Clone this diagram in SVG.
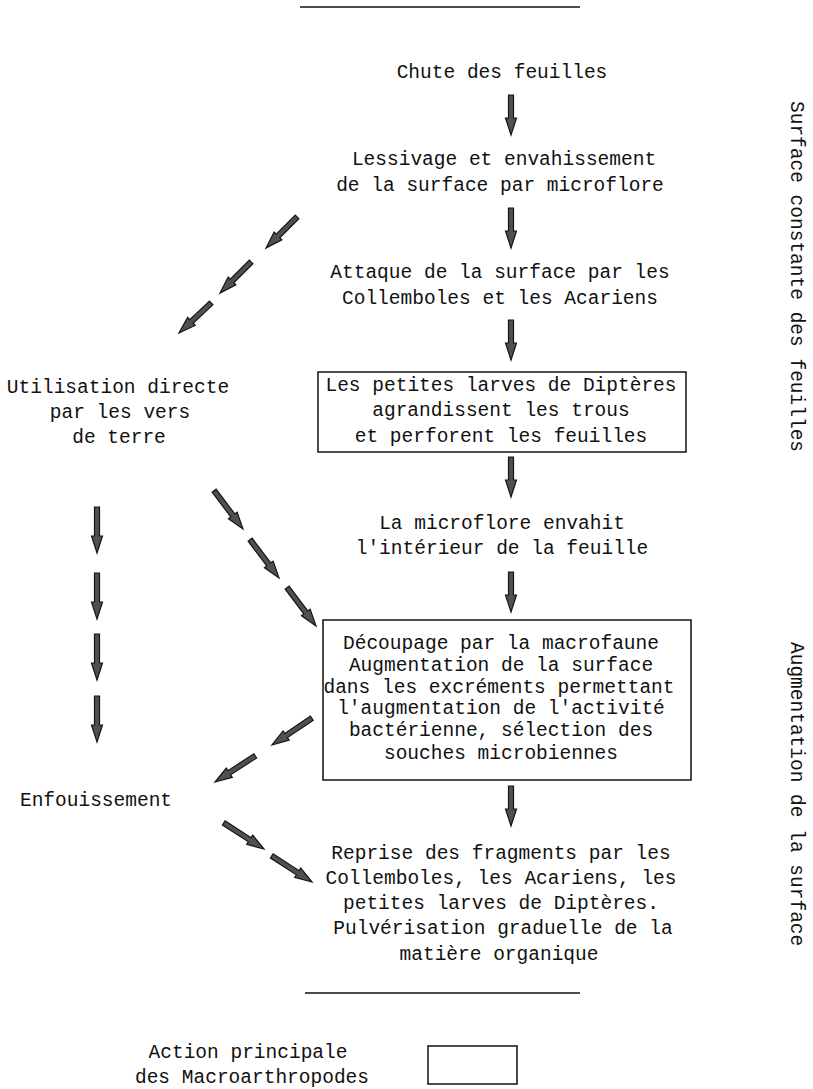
<svg xmlns="http://www.w3.org/2000/svg" xmlns:xlink="http://www.w3.org/1999/xlink" width="813" height="1089" viewBox="0 0 813 1089">
<style>
  text { font-family: "Liberation Mono", "Courier New", monospace; font-size: 19.5px; fill: #111; }
  .c { text-anchor: middle; }
  .box { fill: none; stroke: #111; stroke-width: 1.5; }
  .rule { stroke: #111; stroke-width: 1.5; }
  .arr { fill: #505050; stroke: #141414; stroke-width: 1.2; stroke-linejoin: miter; }
</style>
<defs>
  <path id="a40" class="arr" d="M-2.5,-40H2.5V-17H5.5L0,0L-5.5,-17H-2.5Z"/>
  <path id="a44" class="arr" d="M-2.5,-44H2.5V-17H5.5L0,0L-5.5,-17H-2.5Z"/>
  <path id="a46" class="arr" d="M-2.5,-46H2.5V-17H5.5L0,0L-5.5,-17H-2.5Z"/>
  <path id="a48" class="arr" d="M-2.5,-48H2.5V-17H5.5L0,0L-5.5,-17H-2.5Z"/>
</defs>
<rect width="813" height="1089" fill="#fff"/>

<g id="rules">
  <line class="rule" x1="300" y1="7" x2="580" y2="7"/>
  <line class="rule" x1="305" y1="993" x2="580" y2="993"/>
</g>

<g id="n-chute"><text class="c" x="502" y="78">Chute des feuilles</text></g>
<g id="n-lessivage">
  <text class="c" x="504" y="165">Lessivage et envahissement</text>
  <text class="c" x="500" y="191">de la surface par microflore</text>
</g>
<g id="n-attaque">
  <text class="c" x="500" y="278">Attaque de la surface par les</text>
  <text class="c" x="500" y="304">Collemboles et les Acariens</text>
</g>
<g id="n-larves">
  <rect class="box" x="318" y="372" width="368" height="80"/>
  <text class="c" x="501" y="391">Les petites larves de Diptères</text>
  <text class="c" x="501" y="416">agrandissent les trous</text>
  <text class="c" x="501" y="442">et perforent les feuilles</text>
</g>
<g id="n-microflore">
  <text class="c" x="502" y="529">La microflore envahit</text>
  <text class="c" x="502" y="554">l'intérieur de la feuille</text>
</g>
<g id="n-decoupage">
  <rect class="box" x="323" y="620" width="368" height="160"/>
  <text class="c" x="501" y="649">Découpage par la macrofaune</text>
  <text class="c" x="501" y="671">Augmentation de la surface</text>
  <text class="c" x="499" y="693">dans les excréments permettant</text>
  <text class="c" x="501" y="714">l'augmentation de l'activité</text>
  <text class="c" x="501" y="736">bactérienne, sélection des</text>
  <text class="c" x="501" y="759">souches microbiennes</text>
</g>
<g id="n-reprise">
  <text class="c" x="501" y="859">Reprise des fragments par les</text>
  <text class="c" x="501" y="884">Collemboles, les Acariens, les</text>
  <text class="c" x="501" y="909">petites larves de Diptères.</text>
  <text class="c" x="503" y="934">Pulvérisation graduelle de la</text>
  <text class="c" x="499" y="960">matière organique</text>
</g>
<g id="n-utilisation">
  <text class="c" x="118" y="393">Utilisation directe</text>
  <text class="c" x="120" y="418">par les vers</text>
  <text class="c" x="119" y="443">de terre</text>
</g>
<g id="n-enfouissement"><text class="c" x="96" y="806">Enfouissement</text></g>

<g id="side-labels">
  <text transform="translate(791,101) rotate(90)">Surface constante des feuilles</text>
  <text transform="translate(791,642) rotate(90)">Augmentation de la surface</text>
</g>

<g id="legend">
  <text class="c" x="248" y="1058">Action principale</text>
  <text class="c" x="252" y="1083">des Macroarthropodes</text>
  <rect class="box" x="428" y="1046" width="89" height="38"/>
</g>

<g id="connectors">
  <use xlink:href="#a40" transform="translate(511,135)"/>
  <use xlink:href="#a40" transform="translate(511,248)"/>
  <use xlink:href="#a40" transform="translate(511,360)"/>
  <use xlink:href="#a40" transform="translate(511,497)"/>
  <use xlink:href="#a40" transform="translate(511,612)"/>
  <use xlink:href="#a40" transform="translate(511,826)"/>

  <use xlink:href="#a46" transform="translate(97,553)"/>
  <use xlink:href="#a46" transform="translate(97,619)"/>
  <use xlink:href="#a46" transform="translate(97,680)"/>
  <use xlink:href="#a46" transform="translate(97,742)"/>

  <use xlink:href="#a44" transform="translate(266,248) rotate(45)"/>
  <use xlink:href="#a44" transform="translate(220,293) rotate(45)"/>
  <use xlink:href="#a44" transform="translate(179,333) rotate(47)"/>

  <use xlink:href="#a48" transform="translate(243,529) rotate(-37)"/>
  <use xlink:href="#a48" transform="translate(279,578) rotate(-37)"/>
  <use xlink:href="#a48" transform="translate(316,626) rotate(-37)"/>

  <use xlink:href="#a48" transform="translate(272,745) rotate(56)"/>
  <use xlink:href="#a48" transform="translate(215,782) rotate(57)"/>

  <use xlink:href="#a48" transform="translate(264,849) rotate(-57)"/>
  <use xlink:href="#a48" transform="translate(312,882) rotate(-57)"/>
</g>
</svg>
